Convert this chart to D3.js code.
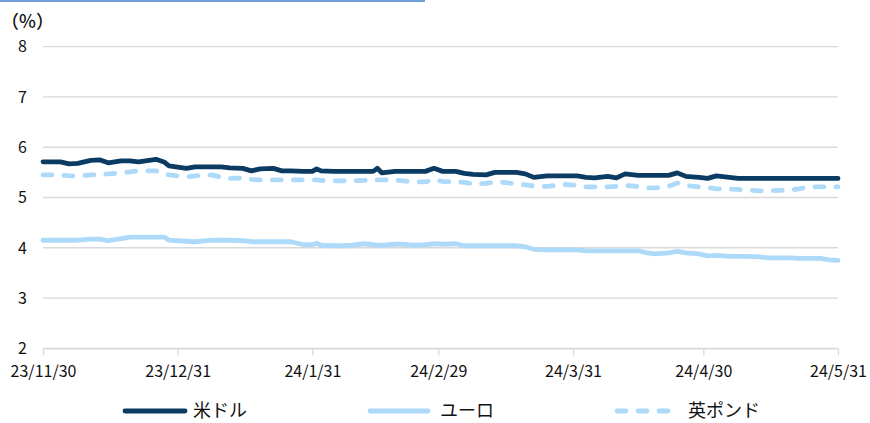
<!DOCTYPE html>
<html><head><meta charset="utf-8">
<script src="https://cdn.jsdelivr.net/npm/d3@7"></script>
<style>
html,body{margin:0;padding:0;background:#fff;}
svg{display:block;font-family:"Noto Sans CJK JP","Noto Sans",sans-serif;}
</style></head>
<body>
<svg id="c" width="870" height="423"></svg>
<script>
const dates = ["2023-11-30","2023-12-04","2023-12-06","2023-12-08","2023-12-11","2023-12-13","2023-12-15","2023-12-18","2023-12-20","2023-12-22","2023-12-26","2023-12-28","2023-12-29",
"2024-01-02","2024-01-04","2024-01-08","2024-01-10","2024-01-12","2024-01-15","2024-01-17","2024-01-19","2024-01-22","2024-01-24","2024-01-26","2024-01-29","2024-01-31",
"2024-02-01","2024-02-02","2024-02-05","2024-02-07","2024-02-09","2024-02-12","2024-02-14","2024-02-15","2024-02-16","2024-02-19","2024-02-21","2024-02-23","2024-02-26","2024-02-28",
"2024-03-01","2024-03-04","2024-03-06","2024-03-08","2024-03-11","2024-03-13","2024-03-15","2024-03-18","2024-03-20","2024-03-22","2024-03-25","2024-03-27","2024-03-29",
"2024-04-01","2024-04-03","2024-04-05","2024-04-08","2024-04-10","2024-04-12","2024-04-15","2024-04-17","2024-04-19","2024-04-22","2024-04-24","2024-04-26","2024-04-29",
"2024-05-01","2024-05-03","2024-05-06","2024-05-08","2024-05-10","2024-05-13","2024-05-15","2024-05-17","2024-05-20","2024-05-22","2024-05-24","2024-05-27","2024-05-29","2024-05-31"];

const usd = [5.71,5.71,5.67,5.68,5.74,5.75,5.69,5.73,5.73,5.71,5.76,5.70,5.63,
5.58,5.61,5.61,5.61,5.59,5.58,5.53,5.57,5.58,5.53,5.53,5.52,5.52,
5.57,5.53,5.52,5.52,5.52,5.52,5.52,5.58,5.49,5.52,5.52,5.52,5.52,5.58,
5.52,5.52,5.48,5.46,5.45,5.50,5.50,5.50,5.47,5.40,5.43,5.43,5.43,
5.43,5.40,5.39,5.42,5.39,5.47,5.44,5.44,5.44,5.44,5.49,5.42,5.40,
5.38,5.43,5.40,5.38,5.38,5.38,5.38,5.38,5.38,5.38,5.38,5.38,5.38,5.38];

const eur = [4.15,4.15,4.15,4.15,4.17,4.17,4.14,4.18,4.21,4.21,4.21,4.21,4.15,
4.13,4.12,4.15,4.15,4.15,4.14,4.12,4.12,4.12,4.12,4.12,4.06,4.06,
4.09,4.05,4.04,4.04,4.05,4.08,4.06,4.05,4.05,4.07,4.07,4.05,4.06,4.08,
4.07,4.08,4.04,4.04,4.04,4.04,4.04,4.04,4.02,3.97,3.96,3.96,3.96,
3.96,3.94,3.94,3.94,3.94,3.94,3.94,3.90,3.88,3.90,3.93,3.90,3.88,
3.84,3.85,3.83,3.83,3.83,3.82,3.80,3.80,3.80,3.79,3.79,3.79,3.76,3.75];

const gbp = [5.45,5.45,5.43,5.43,5.45,5.45,5.47,5.49,5.51,5.53,5.53,5.47,5.45,
5.41,5.43,5.45,5.40,5.38,5.39,5.36,5.35,5.35,5.35,5.35,5.35,5.35,
5.35,5.34,5.33,5.33,5.33,5.34,5.35,5.35,5.35,5.35,5.33,5.31,5.31,5.35,
5.32,5.31,5.30,5.27,5.28,5.31,5.30,5.27,5.25,5.23,5.22,5.24,5.26,
5.24,5.21,5.21,5.21,5.22,5.24,5.22,5.19,5.19,5.22,5.29,5.24,5.21,
5.20,5.17,5.17,5.16,5.15,5.13,5.13,5.14,5.15,5.17,5.21,5.21,5.21,5.21];

const seriesNames = ["米ドル","ユーロ","英ポンド"];
const xTickLabels = ["23/11/30","23/12/31","24/1/31","24/2/29","24/3/31","24/4/30","24/5/31"];
const xTickDates = ["2023-11-30","2023-12-31","2024-01-31","2024-02-29","2024-03-31","2024-04-30","2024-05-31"];
const yTicks = [2,3,4,5,6,7,8];

(function(){
const parse = d3.timeParse("%Y-%m-%d");
const svg = d3.select("#c");
const pLeft = 43, pRight = 838, pTop = 46.7, pBottom = 348.3;

svg.append("rect").attr("x",0).attr("y",0).attr("width",425).attr("height",2).attr("fill","#6f9fd4");

const x = d3.scaleTime().domain([parse(xTickDates[0]), parse(xTickDates[xTickDates.length-1])]).range([pLeft,pRight]);
const y = d3.scaleLinear().domain([2,8]).range([pBottom,pTop]);

svg.append("g").selectAll("line").data(yTicks).join("line")
  .attr("x1",pLeft).attr("x2",pRight)
  .attr("y1",d=>y(d)).attr("y2",d=>y(d))
  .attr("stroke","#d9d9d9").attr("stroke-width",1.3);

svg.append("g").selectAll("text").data(yTicks).join("text")
  .attr("x",27).attr("y",d=>y(d)).attr("dy","0.36em")
  .attr("text-anchor","end").attr("font-size",16).attr("fill","#111")
  .text(d=>d);

svg.append("text").attr("x",1).attr("y",22).attr("dy","0.36em").attr("font-size",18)
  .attr("font-weight",500).attr("fill","#111").text("（%）");

const xAxis = d3.axisBottom(x)
  .tickValues(xTickDates.map(parse))
  .tickFormat((d,i)=>xTickLabels[i])
  .tickSize(7).tickSizeOuter(0).tickPadding(10);
const gx = svg.append("g").attr("transform",`translate(0,${pBottom})`).call(xAxis);
gx.select(".domain").attr("stroke","#d9d9d9").attr("stroke-width",1.3);
gx.selectAll(".tick line").attr("stroke","#d9d9d9").attr("stroke-width",1.3);
gx.selectAll(".tick text").attr("font-size",16).attr("fill","#111")
  .attr("font-family","'Noto Sans CJK JP',sans-serif");

const pts = v => dates.map((d,i)=>[parse(d), v[i]]);
const line = d3.line().x(d=>x(d[0])).y(d=>y(d[1])).curve(d3.curveLinear);

const styles = [
  {data:usd, color:"#0b3a63", dash:null},
  {data:eur, color:"#aedafa", dash:null},
  {data:gbp, color:"#aedafa", dash:"9 12"}
];
[1,2,0].forEach(k=>{
  const s = styles[k];
  svg.append("path").datum(pts(s.data)).attr("d",line)
    .attr("fill","none").attr("stroke",s.color).attr("stroke-width",4.8)
    .attr("stroke-linejoin","round").attr("stroke-linecap","round")
    .attr("stroke-dasharray",s.dash);
});

const legX = [125,370,617];
const legW = [60,58,57];
const legT = [193,440,688];
const legY = 411;
const lg = svg.append("g");
seriesNames.forEach((n,i)=>{
  const s = styles[i];
  lg.append("line").attr("x1",legX[i]).attr("x2",legX[i]+legW[i]).attr("y1",legY).attr("y2",legY)
    .attr("stroke",s.color).attr("stroke-width",4.8).attr("stroke-linecap","round")
    .attr("stroke-dasharray",s.dash);
  lg.append("text").attr("x",legT[i]).attr("y",legY).attr("dy","0.36em")
    .attr("font-size",18).attr("fill","#111").text(n);
});
})();
</script>
</body></html>
